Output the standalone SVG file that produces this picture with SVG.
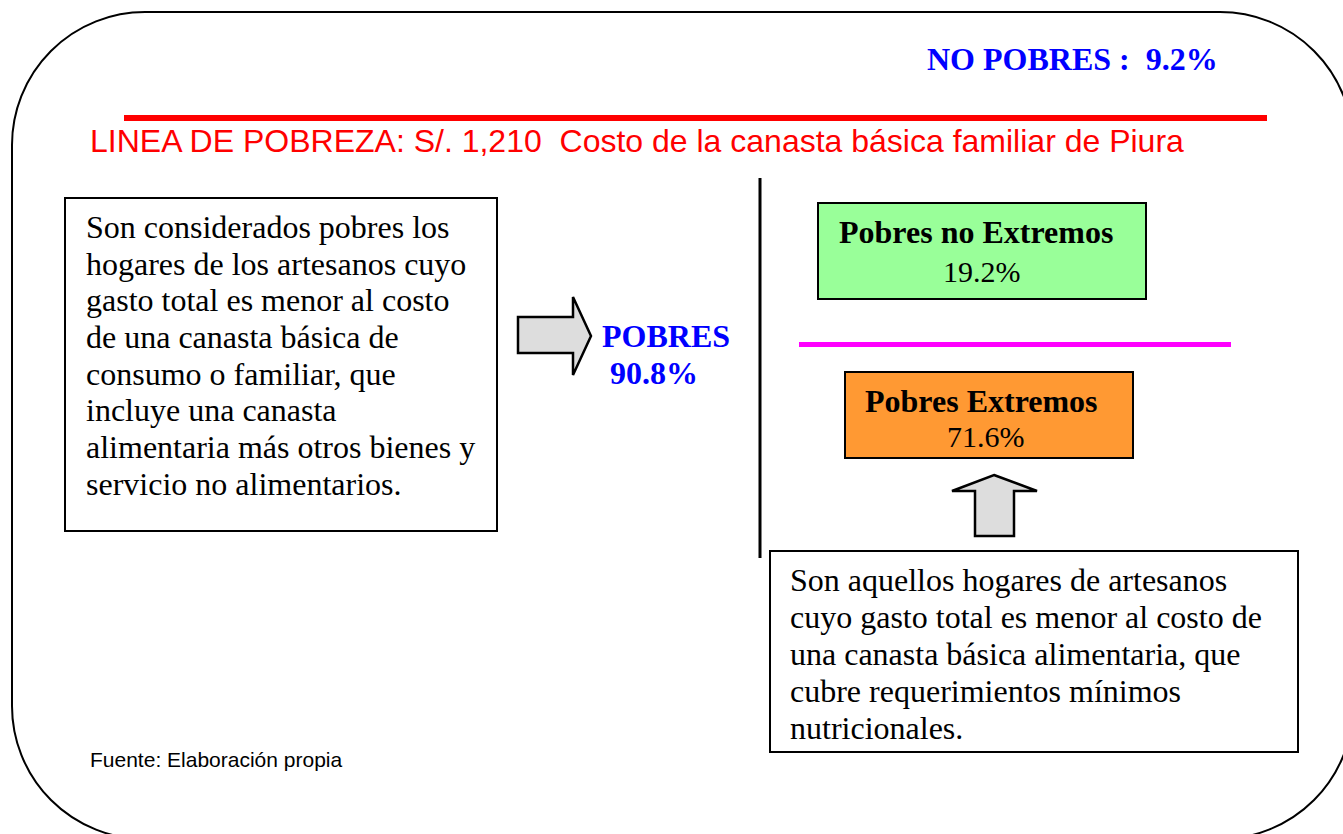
<svg xmlns="http://www.w3.org/2000/svg" width="1343" height="834" viewBox="0 0 1343 834">
<style>
.serif{font-family:"Liberation Serif","Times New Roman",serif;}
.sans{font-family:"Liberation Sans",Arial,sans-serif;}
.body{font-size:32px;fill:#000;}
.box{fill:#fff;stroke:#000;stroke-width:2;}
.arrow{fill:#DDDDDD;stroke:#000;stroke-width:2.5;stroke-linejoin:miter;}
.blue{fill:#0000FF;font-weight:bold;font-size:32px;}
.lbl{font-weight:bold;font-size:32px;fill:#000;}
.pct{font-size:30px;fill:#000;}
</style>
<rect width="1343" height="834" fill="#fff"/>
<rect id="frame" x="12" y="12" width="1341" height="827" rx="133" ry="133" fill="none" stroke="#000" stroke-width="2"/>

<g id="no-pobres">
<text class="serif blue" x="927" y="70" xml:space="preserve">NO POBRES :  9.2%</text>
</g>

<g id="linea-pobreza">
<line x1="124" y1="118" x2="1267" y2="118" stroke="#FF0000" stroke-width="6"/>
<text class="sans" x="90" y="152" font-size="32" fill="#FF0000" xml:space="preserve">LINEA DE POBREZA: S/. 1,210  Costo de la canasta básica familiar de Piura</text>
</g>

<g id="definicion-pobres">
<rect class="box" x="65" y="198" width="432" height="333"/>
<text class="serif body">
<tspan x="86" y="238">Son considerados pobres los</tspan>
<tspan x="86" y="275">hogares de los artesanos cuyo</tspan>
<tspan x="86" y="311">gasto total es menor al costo</tspan>
<tspan x="86" y="348">de una canasta básica de</tspan>
<tspan x="86" y="385">consumo o familiar, que</tspan>
<tspan x="86" y="421">incluye una canasta</tspan>
<tspan x="86" y="458">alimentaria más otros bienes y</tspan>
<tspan x="86" y="495">servicio no alimentarios.</tspan>
</text>
</g>

<g id="connectors">
<polygon class="arrow" points="518,317 573,317 573,297 591,336 573,375 573,353 518,353"/>
<polygon class="arrow" points="994,475 1037,491 1014,491 1014,536 975,536 975,491 952,491"/>
</g>

<g id="pobres">
<text class="serif blue" x="602" y="347">POBRES</text>
<text class="serif blue" x="610" y="384">90.8%</text>
</g>

<g id="separador">
<line x1="760" y1="178" x2="760" y2="558" stroke="#000" stroke-width="3"/>
</g>

<g id="pobres-no-extremos">
<rect x="818" y="203" width="328" height="96" fill="#99FF99" stroke="#000" stroke-width="2"/>
<text class="serif lbl" x="839" y="243">Pobres no Extremos</text>
<text class="serif pct" x="943" y="282">19.2%</text>
</g>

<g id="linea-extrema">
<line x1="799" y1="344.5" x2="1231" y2="344.5" stroke="#FF00FF" stroke-width="5"/>
</g>

<g id="pobres-extremos">
<rect x="845" y="372" width="288" height="86" fill="#FF9933" stroke="#000" stroke-width="2"/>
<text class="serif lbl" x="865" y="412">Pobres Extremos</text>
<text class="serif pct" x="947" y="447">71.6%</text>
</g>

<g id="definicion-extremos">
<rect class="box" x="770" y="551" width="528" height="201"/>
<text class="serif body">
<tspan x="790" y="591">Son aquellos hogares de artesanos</tspan>
<tspan x="790" y="628">cuyo gasto total es menor al costo de</tspan>
<tspan x="790" y="665">una canasta básica alimentaria, que</tspan>
<tspan x="790" y="702">cubre requerimientos mínimos</tspan>
<tspan x="790" y="739">nutricionales.</tspan>
</text>
</g>

<g id="fuente">
<text class="sans" x="90" y="767" font-size="21" fill="#000">Fuente: Elaboración propia</text>
</g>
</svg>
